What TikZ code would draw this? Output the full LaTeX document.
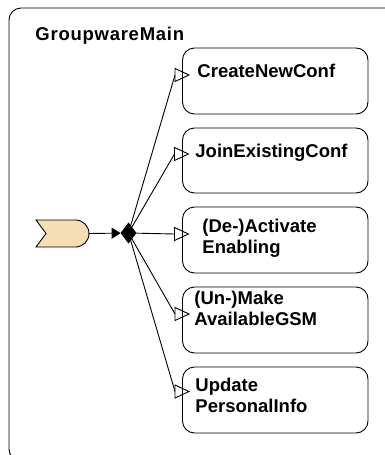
\documentclass[tikz,border=0pt]{standalone}
\usepackage{fontspec}
\setmainfont{Liberation Sans}
\newfontfamily\titlefont{Liberation Sans}[LetterSpace=4]
\usetikzlibrary{arrows.meta,shapes.geometric}
\definecolor{eventfill}{RGB}{245,222,179}
\tikzset{
  actbox/.style={draw=black, rounded corners=12pt, minimum width=185.5pt, minimum height=66pt, inner sep=0pt},
  acttext/.style={anchor=base west, inner sep=0pt, font=\fontsize{18.5}{21.5}\selectfont\bfseries},
  openhead/.style={draw=black, line join=miter},
}
\newcommand{\twolines}[2]{\vtop{\baselineskip=21.5pt\hbox{#1}\hbox{#2}}}
\newcommand{\headat}[1]{\draw[openhead] (#1) ++(0,6.5) -- ++(14,-6.5) -- ++(-14,-6.5) -- cycle;}
\begin{document}
\begin{tikzpicture}[x=1pt, y=1pt, line width=0.9pt]
\useasboundingbox (0,0) rectangle (385,-455);
\clip (0,0) rectangle (385,-455);
% outer frame
\draw[rounded corners=12pt] (9,-8) rectangle (400,-461);
\node[anchor=base west, inner sep=0pt, font=\titlefont\fontsize{18.5}{21.5}\selectfont\bfseries] (title) at (35,-40) {GroupwareMain};
% boxes
\node[actbox] (b1) at (275.25,-81) {};
\node[actbox, minimum height=65pt] (b2) at (275.25,-160.5) {};
\node[actbox] (b3) at (275.25,-240) {};
\node[actbox] (b4) at (275.25,-320) {};
\node[actbox] (b5) at (275.25,-400) {};
\node[acttext] (l1) at (197,-77) {CreateNewConf};
\node[acttext] (l2) at (195,-157) {JoinExistingConf};
\node[acttext] (l3) at (202,-232) {\twolines{(De-)Activate}{Enabling}};
\node[acttext] (l4) at (194,-304) {\twolines{(Un-)Make}{AvailableGSM}};
\node[acttext] (l5) at (195,-391) {\twolines{Update}{PersonalInfo}};
% start event
\draw[fill=eventfill] (36,-220) -- (75.5,-220) arc[start angle=90, end angle=-90, radius=13.5] -- (36,-247) -- (46,-233.5) -- cycle;
\coordinate (s) at (89,-233.5);
% diamond
\node[diamond, fill=black, draw=black, minimum width=15pt, minimum height=20pt, inner sep=0pt] (d) at (128.5,-233) {};
\draw[-{Triangle[length=9pt, width=11pt]}] (s) -- (d);
% arrowhead back points
\coordinate (a1) at (175,-75);
\coordinate (a2) at (174.5,-154);
\coordinate (a3) at (174.5,-234);
\coordinate (a4) at (175,-314);
\coordinate (a5) at (175,-391.5);
\draw (d) -- (a1);
\draw (d) -- (a2);
\draw (d) -- (a3);
\draw (d) -- (a4);
\draw (d) -- (a5);
\headat{a1}
\headat{a2}
\headat{a3}
\headat{a4}
\headat{a5}
\end{tikzpicture}
\end{document}
